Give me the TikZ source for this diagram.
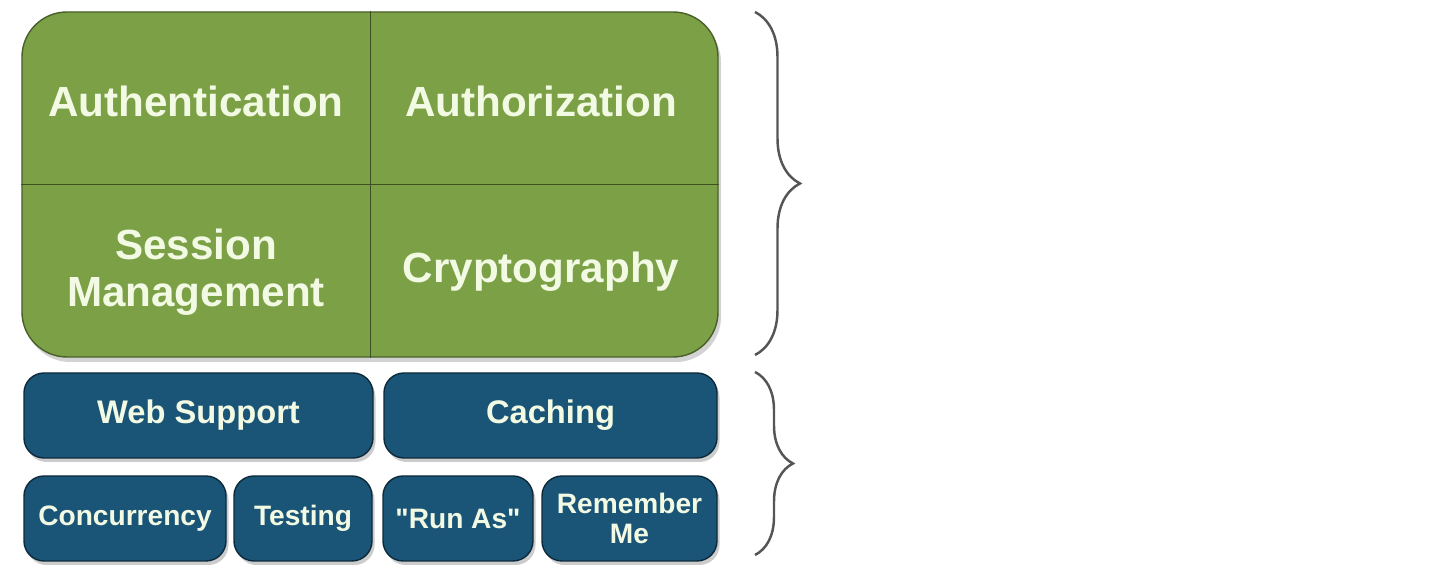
\documentclass[tikz,border=0pt]{standalone}
\usepackage{fontspec}
\setmainfont{Liberation Sans}
\usetikzlibrary{positioning,shadows,decorations.pathreplacing}
\definecolor{coregreen}{RGB}{123,160,70}
\definecolor{suppblue}{RGB}{26,85,119}
\definecolor{paletext}{RGB}{242,250,228}
\definecolor{bracegray}{RGB}{85,85,85}
\tikzset{
  corebox/.style={draw=coregreen!60!black, fill=coregreen, rounded corners=0.9cm,
    minimum width=13.92cm, minimum height=6.9cm, line width=0.8pt,
    drop shadow={opacity=0.35, shadow xshift=0.06cm, shadow yshift=-0.1cm}},
  coretext/.style={text=paletext, font=\bfseries\fontsize{24}{27}\selectfont, align=center},
  suppbox/.style={draw=suppblue!50!black, fill=suppblue, rounded corners=0.4cm,
    minimum height=1.7cm, line width=0.8pt, text=paletext, align=center,
    drop shadow={opacity=0.4, shadow xshift=0.05cm, shadow yshift=-0.08cm}},
  bigsupp/.style={suppbox, font=\bfseries\fontsize{18.6}{21}\selectfont},
  smallsupp/.style={suppbox, font=\bfseries\fontsize{16}{17.5}\selectfont},
  groupbrace/.style={draw=bracegray, line width=1.4pt, decorate}
}
\begin{document}
\begin{tikzpicture}
  \useasboundingbox (0,0) rectangle (28.88,11.56);

  % primary concerns
  \node[corebox] (core) at (7.4,7.87) {};
  \draw[coregreen!50!black, line width=0.5pt] (core.north) -- (core.south);
  \draw[coregreen!50!black, line width=0.5pt] (core.west) -- (core.east);
  \node[coretext] (authn) at (3.92,9.54) {Authentication};
  \node[coretext] (authz) at (10.82,9.54) {Authorization};
  \node[coretext] (session) at (3.92,6.12) {Session\\Management};
  \node[coretext] (crypto) at (10.82,6.12) {Cryptography};

  % supporting features
  \node[bigsupp, minimum width=6.98cm] (web) at (3.97,3.25) {Web Support};
  \node[bigsupp, minimum width=6.66cm] (cache) at (11.01,3.25) {Caching};
  \node[smallsupp, minimum width=4.04cm] (conc) at (2.5,1.19) {Concurrency};
  \node[smallsupp, minimum width=2.76cm] (test) at (6.06,1.19) {Testing};
  \node[smallsupp, minimum width=3.0cm] (runas) at (9.16,1.19) {\textquotedbl Run As\textquotedbl};
  \node[smallsupp, minimum width=3.5cm] (remember) at (12.59,1.19) {Remember\\Me};

  % braces
  \coordinate (b1top) at (15.1,11.32);
  \coordinate (b1bot) at (15.1,4.46);
  \coordinate (b2top) at (15.1,4.12);
  \coordinate (b2bot) at (15.1,0.46);
  \draw[groupbrace, decoration={brace, amplitude=0.9cm}] (b1top) -- (b1bot);
  \draw[groupbrace, decoration={brace, amplitude=0.76cm}] (b2top) -- (b2bot);
\end{tikzpicture}
\end{document}
